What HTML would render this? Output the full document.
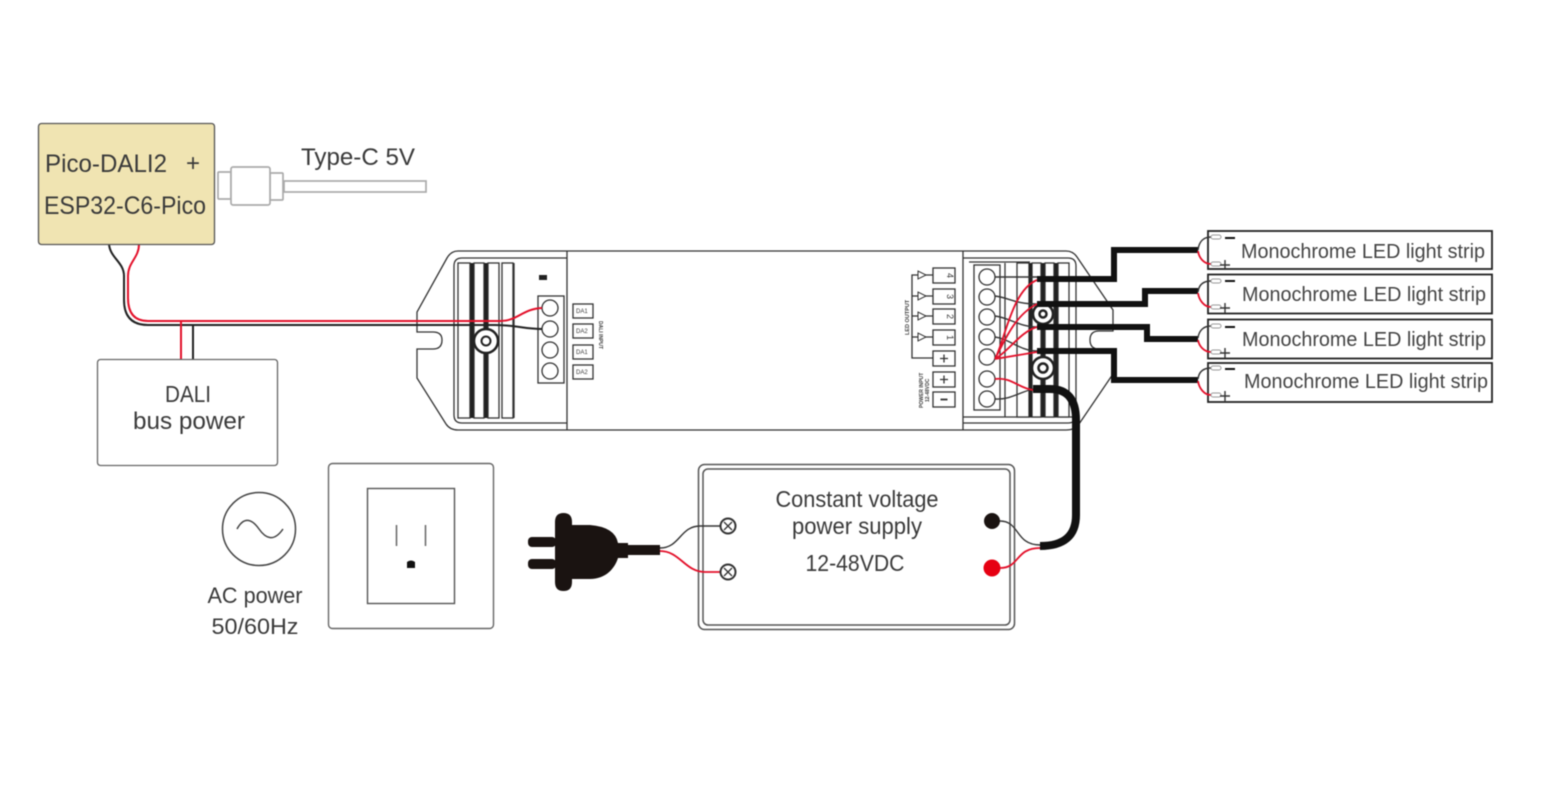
<!DOCTYPE html>
<html><head><meta charset="utf-8"><style>
html,body{margin:0;padding:0;background:#fff}
svg{display:block;filter:blur(0.45px)}
text{font-family:"Liberation Sans",sans-serif;fill:#3a3a3a}
.s{fill:none;stroke:#333;stroke-width:1.3}
.w{fill:#fff;stroke:#333;stroke-width:1.3}
.k{fill:none;stroke:#111;stroke-linejoin:miter}
.r{fill:none;stroke:#e3102a;stroke-width:1.8}
.b{fill:none;stroke:#333;stroke-width:1.4}
.m{font-size:20px;fill:#444}
</style></head><body>
<svg width="1563" height="800" viewBox="0 0 1563 800" xmlns="http://www.w3.org/2000/svg">
<!-- device body -->
<path class="w" d="M458 251H1066Q1073 251 1077 257L1113 310V331H1099Q1090 331 1090 340Q1090 349 1099 349H1113V374L1079 424Q1075 430 1066 430H458Q450 430 446 424L417 378V349H433Q442 349 442 340Q442 332 433 332H417V312L447 258Q451 251 458 251Z"/>
<path class="s" d="M567 251V430M963 251V430M567 258H462Q454 258 454 266V415Q454 423 462 423H567M963 258H1068Q1076 258 1076 266V415Q1076 423 1068 423H963"/>
<path class="s" d="M969 262H1030M963 417H1075M514 263V418M1005 263V417"/>
<!-- fins -->
<g class="w">
<rect x="458" y="263" width="12" height="155" fill="#fff"/><rect x="474" y="263" width="10" height="155" fill="#fff"/><rect x="488" y="263" width="11" height="155" fill="#fff"/><rect x="502" y="263" width="11" height="155" fill="#fff"/>
<rect x="1017" y="263" width="12" height="154" fill="#fff"/><rect x="1032" y="263" width="9" height="154" fill="#fff"/><rect x="1045" y="263" width="9" height="154" fill="#fff"/><rect x="1058" y="263" width="11" height="154" fill="#fff"/>
</g>
<path d="M472 263V418M486 263V418M1030.500 263V417M1043 263V417M1056 263V417" stroke="#222" stroke-width="3" fill="none"/>
<rect x="539" y="275" width="8" height="5" fill="#222"/>
<!-- left terminal -->
<rect class="w" x="538" y="296" width="26" height="87"/>
<g class="w"><circle cx="550" cy="308" r="8"/><circle cx="550" cy="329" r="8"/><circle cx="550" cy="350" r="8"/><circle cx="550" cy="371" r="8"/></g>
<g class="w"><rect x="573" y="304" width="20" height="14"/><rect x="573" y="324" width="20" height="14"/><rect x="573" y="345" width="20" height="14"/><rect x="573" y="365" width="20" height="14"/></g>
<g font-size="6"><text x="576" y="313">DA1</text><text x="576" y="333">DA2</text><text x="576" y="354">DA1</text><text x="576" y="374">DA2</text></g>
<text transform="translate(599 321) rotate(90)" font-size="5" font-weight="bold">DALI INPUT</text>
<circle cx="486" cy="341" r="12" fill="#fff" stroke="#222" stroke-width="2.500"/><circle cx="486" cy="341" r="4.500" fill="#fff" stroke="#222" stroke-width="2"/>
<!-- DALI wires -->
<path d="M109 244C110 258 124 262 124 276V300Q124 325 148 325H495C515 325 525 329 542 329" fill="none" stroke="#222" stroke-width="2"/>
<path d="M139 244C139 258 128 262 128 276V298Q128 321 148 321H500C518 321 522 309 542 308" fill="none" stroke="#e3102a" stroke-width="2"/>
<path d="M181 321V359" stroke="#e3102a" stroke-width="2"/><path d="M193 325V359" stroke="#222" stroke-width="2"/>
<!-- pico box -->
<rect x="38.500" y="123.500" width="176" height="121" rx="3" fill="#f0e4b2" stroke="#555" stroke-width="1.300"/>
<text x="45" y="172" font-size="25" textLength="122" lengthAdjust="spacingAndGlyphs" fill="#2f2f2f">Pico-DALI2</text>
<text x="186" y="171" font-size="24" fill="#2f2f2f">+</text>
<text x="44" y="214" font-size="25" textLength="162" lengthAdjust="spacingAndGlyphs" fill="#2f2f2f">ESP32-C6-Pico</text>
<!-- usb -->
<g fill="#fff" stroke="#aaa" stroke-width="1.700">
<rect x="284" y="181" width="142" height="11"/><rect x="270" y="173" width="13" height="27" rx="1"/><rect x="218" y="172" width="13" height="27" rx="1"/><rect x="231" y="167" width="39" height="38" rx="2"/>
</g>
<text x="301" y="165" font-size="24" textLength="114" lengthAdjust="spacingAndGlyphs">Type-C 5V</text>
<!-- DALI bus power -->
<rect x="97.500" y="359.500" width="180" height="106" rx="3" fill="#fff" stroke="#666" stroke-width="1.300"/>
<text x="188" y="402" font-size="23" text-anchor="middle" textLength="46" lengthAdjust="spacingAndGlyphs">DALI</text>
<text x="189" y="429" font-size="24" text-anchor="middle" textLength="112" lengthAdjust="spacingAndGlyphs">bus power</text>
<!-- right labels -->
<g class="w"><rect x="933" y="268" width="22" height="15"/><rect x="933" y="289" width="22" height="15"/><rect x="933" y="309" width="22" height="15"/><rect x="933" y="330" width="22" height="15"/><rect x="933" y="351" width="22" height="15"/><rect x="933" y="372" width="22" height="15"/><rect x="933" y="392" width="22" height="15"/></g>
<g font-size="9" text-anchor="middle"><text transform="translate(947 275.500) rotate(90)">4</text><text transform="translate(947 296.500) rotate(90)">3</text><text transform="translate(947 316.500) rotate(90)">2</text><text transform="translate(947 337.500) rotate(90)">1</text></g>
<path d="M940 358.500H948M944 354.500V362.500M940 379.500H948M944 375.500V383.500" stroke="#333" stroke-width="1.300"/>
<path d="M944 396V403" stroke="#333" stroke-width="1.800" transform="rotate(90 944 399.500)"/>
<path class="s" d="M933 275H912V337H933M912 296H933M912 316H933M912 337V358H933" />
<g fill="#fff" stroke="#333" stroke-width="1"><path d="M918 271V279L926 275Z"/><path d="M918 292V300L926 296Z"/><path d="M918 312V320L926 316Z"/><path d="M918 333V341L926 337Z"/></g>
<text transform="translate(909 335) rotate(-90)" font-size="5.500" font-weight="bold" fill="#222">LED OUTPUT</text>
<text transform="translate(923 408) rotate(-90)" font-size="5" font-weight="bold" fill="#222">POWER INPUT</text>
<text transform="translate(929 402) rotate(-90)" font-size="5" font-weight="bold" fill="#222">12-48VDC</text>
<!-- right terminal -->
<rect class="w" x="974" y="265" width="26" height="145"/>
<g class="w"><circle cx="987" cy="277" r="8"/><circle cx="987" cy="297" r="8"/><circle cx="987" cy="317" r="8"/><circle cx="987" cy="337" r="8"/><circle cx="987" cy="357" r="8"/><circle cx="987" cy="379" r="8"/><circle cx="987" cy="399" r="8"/></g>
<g fill="#fff" stroke="#222" stroke-width="2.500"><circle cx="1043" cy="314" r="10"/><circle cx="1043" cy="368" r="11"/><circle cx="1043" cy="314" r="3.500"/><circle cx="1043" cy="368" r="4.500"/></g>
<!-- thin wires right -->
<path class="b" d="M995 277H1037M995 296C1010 298 1015 304 1037 304M995 316C1010 318 1020 327 1037 327M995 337C1010 339 1020 351 1037 351M995 399C1010 400 1020 392 1033 389"/>
<path class="r" d="M995 359C1005 340 1012 290 1037 280M995 359C1005 340 1015 315 1037 304M995 359C1010 350 1020 332 1037 327M995 359L1037 352M995 379C1012 377 1018 388 1033 390"/>
<!-- thick wires -->
<g class="k" stroke-width="6">
<path d="M1037 279H1114V250H1198"/><path d="M1037 304H1145V291H1198"/><path d="M1037 327H1147V339H1198"/><path d="M1037 351H1114V380H1198"/>
</g>
<path d="M1033 389H1050Q1076 389 1076 420V515Q1076 546 1040 546" fill="none" stroke="#111" stroke-width="8"/>
<!-- strips -->
<g fill="#fff" stroke="#222" stroke-width="1.800">
<rect x="1208" y="231" width="284" height="38"/><rect x="1208" y="274.500" width="284" height="39"/><rect x="1208" y="319.500" width="284" height="39"/><rect x="1208" y="363" width="284" height="39"/>
</g>
<g>
<path class="b" d="M1198 250C1199 241 1204 237 1211 237M1198 292C1199 284 1204 281 1211 281M1198 338C1199 330 1204 326 1211 326M1198 379C1199 371 1204 368 1211 368"/>
<path class="r" d="M1198 251C1199 258 1204 264 1211 264M1198 293C1199 300 1204 307 1211 307M1198 340C1199 346 1204 352 1211 352M1198 381C1199 388 1204 395 1211 395"/>
</g>
<g fill="#fff" stroke="#999" stroke-width="1"><rect x="1211" y="235" width="10" height="4" rx="2"/><rect x="1211" y="262" width="10" height="4" rx="2"/><rect x="1211" y="279" width="10" height="4" rx="2"/><rect x="1211" y="305" width="10" height="4" rx="2"/><rect x="1211" y="324" width="10" height="4" rx="2"/><rect x="1211" y="350" width="10" height="4" rx="2"/><rect x="1211" y="366" width="10" height="4" rx="2"/><rect x="1211" y="393" width="10" height="4" rx="2"/></g>
<path d="M1225 238H1235M1225 281H1235M1225 327H1235M1225 369H1235" stroke="#111" stroke-width="2"/>
<path d="M1220 265H1230M1225 260V270M1220 308H1230M1225 303V313M1220 353H1230M1225 348V358M1220 396H1230M1225 391V401" stroke="#333" stroke-width="1.400"/>
<text class="m" x="1241" y="258" textLength="244" lengthAdjust="spacingAndGlyphs">Monochrome LED light strip</text>
<text class="m" x="1242" y="301" textLength="244" lengthAdjust="spacingAndGlyphs">Monochrome LED light strip</text>
<text class="m" x="1242" y="346" textLength="244" lengthAdjust="spacingAndGlyphs">Monochrome LED light strip</text>
<text class="m" x="1244" y="388" textLength="244" lengthAdjust="spacingAndGlyphs">Monochrome LED light strip</text>
<!-- AC -->
<circle cx="259" cy="529" r="36.500" fill="#fff" stroke="#444" stroke-width="1.500"/>
<path d="M237 529C244 516 252 519 259 529S274 542 283 529" fill="none" stroke="#444" stroke-width="1.500"/>
<text x="255" y="603" font-size="22" text-anchor="middle" textLength="95" lengthAdjust="spacingAndGlyphs">AC power</text>
<text x="255" y="634" font-size="22" text-anchor="middle" textLength="87" lengthAdjust="spacingAndGlyphs">50/60Hz</text>
<!-- wall -->
<rect x="328.500" y="463.500" width="165" height="165" rx="4" fill="#fff" stroke="#666" stroke-width="1.400"/>
<rect x="367.500" y="488.500" width="87" height="115" fill="#fff" stroke="#555" stroke-width="1.400"/>
<path d="M396.500 525V546M425.500 525V546" stroke="#666" stroke-width="1.500"/>
<path d="M407 568V562Q411 559 415 562V568Z" fill="#111"/>
<!-- plug -->
<g fill="#1a1311">
<rect x="528" y="537" width="28" height="10" rx="4"/><rect x="528" y="559" width="28" height="10" rx="4"/>
<path d="M555 522Q555 513 563.500 513Q572 513 572 522V525H590Q615 527 618 543H628V545H660V555H628V558H618C615 568 606 579 590 579H572V582Q572 591 563.500 591Q555 591 555 582Z"/>
</g>
<!-- supply -->
<rect x="698.500" y="464.500" width="316" height="165" rx="6" fill="#fff" stroke="#555" stroke-width="1.500"/>
<rect x="703" y="469" width="307" height="156" rx="5" fill="#fff" stroke="#555" stroke-width="1.500"/>
<path class="b" d="M660 548C680 548 680 526 700 526H720"/>
<path class="r" d="M660 551C680 551 685 572 705 572H720"/>
<g fill="#fff" stroke="#333" stroke-width="2"><circle cx="728" cy="526" r="7.500"/><circle cx="728" cy="572" r="7.500"/></g>
<path d="M724 522L732 530M732 522L724 530M724 568L732 576M732 568L724 576" stroke="#333" stroke-width="1.300"/>
<circle cx="992" cy="521" r="8" fill="#1a1311"/><circle cx="992" cy="568" r="8.500" fill="#e60012"/>
<path class="b" d="M1000 521C1020 521 1015 545 1040 545"/>
<path class="r" d="M1000 568C1020 568 1015 548 1040 548"/>
<text x="857" y="507" font-size="23" text-anchor="middle" textLength="163" lengthAdjust="spacingAndGlyphs" fill="#444">Constant voltage</text>
<text x="857" y="534" font-size="23" text-anchor="middle" textLength="130" lengthAdjust="spacingAndGlyphs" fill="#444">power supply</text>
<text x="855" y="571" font-size="23" text-anchor="middle" textLength="99" lengthAdjust="spacingAndGlyphs" fill="#333">12-48VDC</text>
</svg>
</body></html>
